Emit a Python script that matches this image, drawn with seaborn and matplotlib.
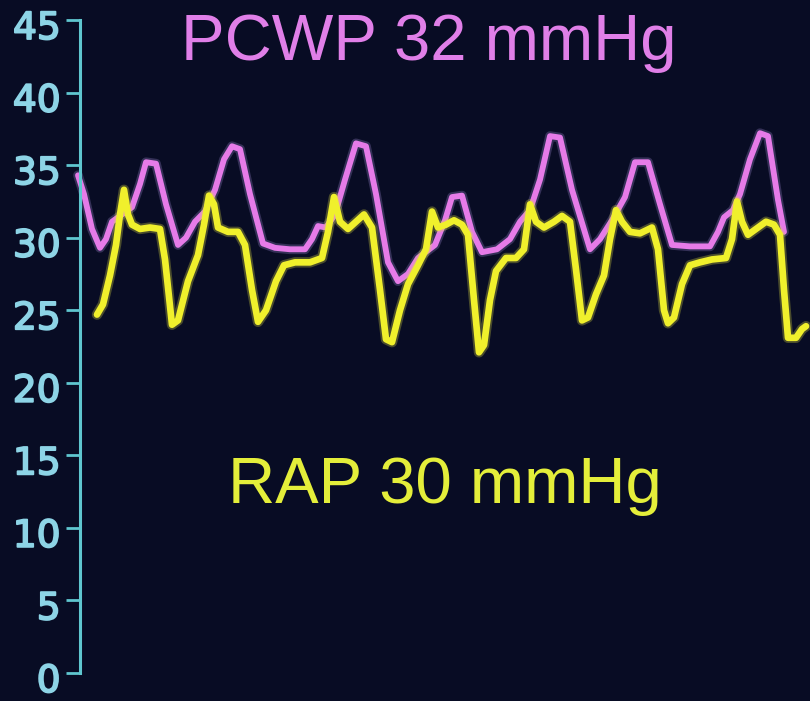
import pandas as pd
import matplotlib
matplotlib.use("Agg")
import matplotlib.pyplot as plt
import matplotlib.transforms as mtransforms
import matplotlib.patheffects as pe
import seaborn as sns

pcwp_t = [78, 84, 92, 100, 106, 112, 122, 132, 140, 146, 156, 166, 178, 186, 195, 205,
          215, 224, 232, 240, 250, 263, 275, 290, 305, 312, 318, 326, 335, 345, 356, 366,
          376, 388, 398, 408, 418, 435, 445, 452, 462, 472, 482, 497, 510, 520, 530, 540,
          550, 560, 572, 590, 600, 612, 625, 635, 648, 660, 672, 690, 710, 718, 724, 733,
          740, 750, 760, 768, 778, 784]
pcwp_p = [34.3, 33.0, 30.6, 29.3, 29.9, 31.1, 31.6, 32.1, 33.7, 35.2, 35.1, 32.3, 29.5, 30.0, 31.1, 31.8,
          33.3, 35.4, 36.3, 36.1, 33.0, 29.6, 29.3, 29.2, 29.2, 29.9, 30.8, 30.7, 31.6, 34.0, 36.5, 36.3,
          33.0, 28.3, 27.0, 27.5, 28.6, 29.5, 31.2, 32.8, 32.9, 30.4, 29.0, 29.2, 29.9, 31.1, 31.9, 34.0,
          37.0, 36.9, 33.3, 29.2, 29.9, 31.2, 32.8, 35.2, 35.2, 32.3, 29.5, 29.4, 29.4, 30.4, 31.4, 31.9,
          33.0, 35.4, 37.2, 37.0, 32.6, 30.4]

rap_t = [97, 103, 110, 116, 120, 124, 128, 132, 140, 150, 160, 165, 172, 178, 188, 198,
         204, 209, 214, 218, 228, 238, 245, 252, 258, 266, 276, 284, 295, 310, 322, 328,
         334, 340, 348, 356, 364, 372, 380, 386, 392, 400, 408, 418, 426, 432, 438, 446,
         454, 462, 468, 474, 479, 484, 490, 496, 506, 516, 524, 530, 536, 544, 554, 562,
         570, 576, 582, 588, 596, 604, 610, 616, 622, 630, 640, 652, 658, 664, 668, 674,
         682, 690, 700, 712, 726, 732, 737, 742, 748, 756, 766, 774, 780, 784, 788, 796,
         802, 806]
rap_p = [24.7, 25.4, 27.4, 29.5, 31.6, 33.3, 31.6, 30.9, 30.6, 30.7, 30.6, 28.5, 24.0, 24.3, 27.0, 28.8,
         30.9, 32.9, 32.3, 30.7, 30.4, 30.4, 29.5, 26.4, 24.2, 25.0, 27.0, 28.1, 28.3, 28.3, 28.6, 30.4,
         32.8, 31.1, 30.6, 31.1, 31.6, 30.7, 26.4, 23.0, 22.8, 25.0, 26.8, 28.1, 29.2, 31.8, 30.7, 30.9,
         31.2, 30.9, 30.2, 25.7, 22.1, 22.6, 25.7, 27.7, 28.6, 28.6, 29.2, 32.3, 31.1, 30.7, 31.1, 31.5,
         31.1, 27.8, 24.3, 24.5, 26.1, 27.4, 29.9, 31.9, 31.1, 30.4, 30.3, 30.7, 29.2, 25.0, 24.1, 24.5,
         26.8, 28.1, 28.3, 28.5, 28.6, 29.9, 32.5, 31.1, 30.2, 30.6, 31.1, 30.9, 30.2, 26.4, 23.1, 23.1,
         23.7, 23.9]

yticks = [0, 5, 10, 15, 20, 25, 30, 35, 40, 45]

pcwp = pd.DataFrame({"t": pcwp_t, "p": pcwp_p})
rap = pd.DataFrame({"t": rap_t, "p": rap_p})

bg = "#080c24"
axis_col = "#5fc6cf"
pink = "#e67be8"
yellow = "#f0f02c"

sns.set_style("dark")
fig = plt.figure(figsize=(8.10, 7.01), dpi=100, facecolor=bg)
ax = fig.add_axes([0, 0, 1, 1])
ax.set_facecolor(bg)

# faint glow under each trace
kw = dict(estimator=None, solid_joinstyle="round", solid_capstyle="round")
sns.lineplot(data=pcwp, x="t", y="p", ax=ax, color="#b89cf0", lw=7, alpha=0.25, **kw)
sns.lineplot(data=pcwp, x="t", y="p", ax=ax, color=pink, lw=4.2, **kw)
sns.lineplot(data=rap, x="t", y="p", ax=ax, color="#e0e040", lw=7.5, alpha=0.3, **kw)
sns.lineplot(data=rap, x="t", y="p", ax=ax, color=yellow, lw=4.8, **kw)

ax.set_xlim(0, 810)
ax.set_ylim(-1.93, 46.38)
ax.set_xlabel("")
ax.set_ylabel("")
ax.grid(False)

for s in ["top", "right", "bottom"]:
    ax.spines[s].set_visible(False)
ax.spines["left"].set_position(("data", 80))
ax.spines["left"].set_bounds(0, 45)
ax.spines["left"].set_color(axis_col)
ax.spines["left"].set_linewidth(2.2)

ax.set_xticks([])
ax.set_yticks(yticks)
ax.set_yticklabels([str(v) for v in yticks])
ax.tick_params(axis="y", direction="out", length=10, width=2, color=axis_col,
               labelcolor="#8dd4e6", labelsize=27, pad=4, left=True)
shift = mtransforms.ScaledTranslation(0, -0.05, fig.dpi_scale_trans)
for lbl in ax.get_yticklabels():
    lbl.set_fontfamily("DejaVu Sans")
    lbl.set_path_effects([pe.withStroke(linewidth=1.3, foreground="#8dd4e6")])
    lbl.set_transform(lbl.get_transform() + shift)

ax.text(429, 43.4, "PCWP 32 mmHg", color="#e07fe8", fontsize=47, family="Liberation Sans",
        ha="center", va="center")
ax.text(445, 12.9, "RAP 30 mmHg", color="#e4ee3a", fontsize=47, family="Liberation Sans",
        ha="center", va="center")

fig.savefig("out.png", dpi=100, facecolor=bg)
